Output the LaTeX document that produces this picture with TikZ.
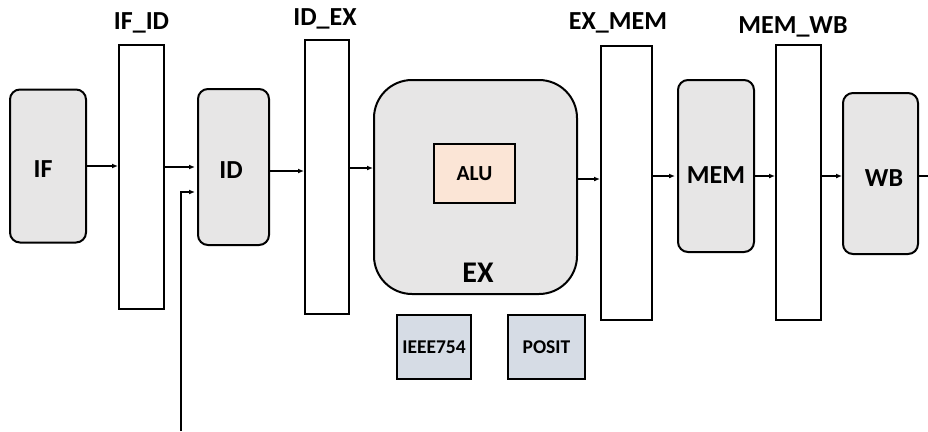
\documentclass[tikz,border=0pt]{standalone}
\usepackage{fontspec}
\setmainfont{Carlito}
\usetikzlibrary{arrows.meta}
\definecolor{stagefill}{HTML}{E7E6E6}
\definecolor{alufill}{HTML}{FBE5D6}
\definecolor{fmtfill}{HTML}{D6DCE5}
\begin{document}
\begin{tikzpicture}[x=1pt,y=-1pt,
  font=\bfseries,
  stage/.style={draw=black,line width=2pt,fill=stagefill,rounded corners=10pt,inner sep=0pt},
  stagecap/.style={inner sep=0pt,font=\bfseries\fontsize{26}{30}\selectfont},
  reg/.style={draw=black,line width=2pt,fill=white,inner sep=0pt},
  reglbl/.style={inner sep=0pt,font=\bfseries\fontsize{26}{30}\selectfont},
  fmt/.style={draw=black,line width=1.6pt,fill=fmtfill,inner sep=0pt,
    minimum width=75pt,minimum height=64pt,font=\bfseries\fontsize{19.5}{23}\selectfont},
  arr/.style={line width=1.8pt,-{Latex[length=6pt,width=5pt]}}]
\useasboundingbox (0,0) rectangle (928,431);

% pipeline stages
\node[stage,minimum width=76pt,minimum height=153pt] (IF) at (48,166) {};
\node[stage,minimum width=71pt,minimum height=156pt] (ID) at (233.5,167) {};
\node[stage,minimum width=203pt,minimum height=214pt,rounded corners=38pt] (EX) at (475.5,187) {};
\node[stage,minimum width=76pt,minimum height=172pt] (MEM) at (716,166) {};
\node[stage,minimum width=75pt,minimum height=161pt] (WB) at (880.5,173.5) {};

\node[stagecap] (IFcap) at (43,169) {IF};
\node[stagecap] (IDcap) at (231,170) {ID};
\node[stagecap] (MEMcap) at (716,175) {MEM};
\node[stagecap] (WBcap) at (884,178) {WB};

% contents of the execute stage
\node[draw=black,line width=1.6pt,fill=alufill,inner sep=0pt,minimum width=81pt,
  minimum height=59pt,font=\bfseries\fontsize{21.5}{25}\selectfont] (ALU) at (474.5,173.5) {ALU};
\node[inner sep=0pt,font=\bfseries\fontsize{30}{34}\selectfont] (EXcap) at (478,273) {EX};

% number formats
\node[fmt,minimum width=74pt] (IEEE) at (434,347) {IEEE754};
\node[fmt,minimum width=77pt] (POSIT) at (546.5,347) {POSIT};

% pipeline registers
\node[reg,minimum width=45pt,minimum height=264pt] (IFID) at (141.5,177) {};
\node[reg,minimum width=44pt,minimum height=274pt] (IDEX) at (327,177) {};
\node[reg,minimum width=51pt,minimum height=274pt] (EXMEM) at (626.5,183) {};
\node[reg,minimum width=45pt,minimum height=275pt] (MEMWB) at (798.5,182.5) {};

\node[reglbl] (IFIDlbl) at (141.5,23) {IF\_ID};
\node[reglbl] (IDEXlbl) at (325,19) {ID\_EX};
\node[reglbl] (EXMEMlbl) at (618,23) {EX\_MEM};
\node[reglbl] (MEMWBlbl) at (793,27) {MEM\_WB};

% data flow
\draw[arr] (IF.east) -- (IF.east -| IFID.west);
\draw[arr] (IFID.east |- ID.west) -- ([xshift=-2pt]ID.west);
\draw[arr] ([yshift=-4pt]ID.east) -- ([yshift=-4pt]ID.east -| IDEX.west);
\draw[arr] ([yshift=9pt]IDEX.east) -- ([yshift=9pt]IDEX.east -| EX.west);
\draw[arr] ([yshift=4pt]EXMEM.west -| EX.east) -- ([yshift=4pt]EXMEM.west);
\draw[arr] ([yshift=-10pt]MEM.west -| EXMEM.east) -- ([yshift=-10pt,xshift=-2pt]MEM.west);
\draw[arr] ([yshift=-10pt]MEM.east) -- ([yshift=-10pt]MEM.east -| MEMWB.west);
\draw[arr] ([yshift=-2.5pt]WB.west -| MEMWB.east) -- ([yshift=-2.5pt]WB.west);
\coordinate (out) at (928,176);
\draw[line width=1.8pt] (WB.east |- out) -- (out);

% second input into the decode stage
\coordinate (fb) at (181,431);
\draw[arr] (fb) |- ([yshift=-25pt,xshift=-2pt]ID.west);
\end{tikzpicture}
\end{document}
